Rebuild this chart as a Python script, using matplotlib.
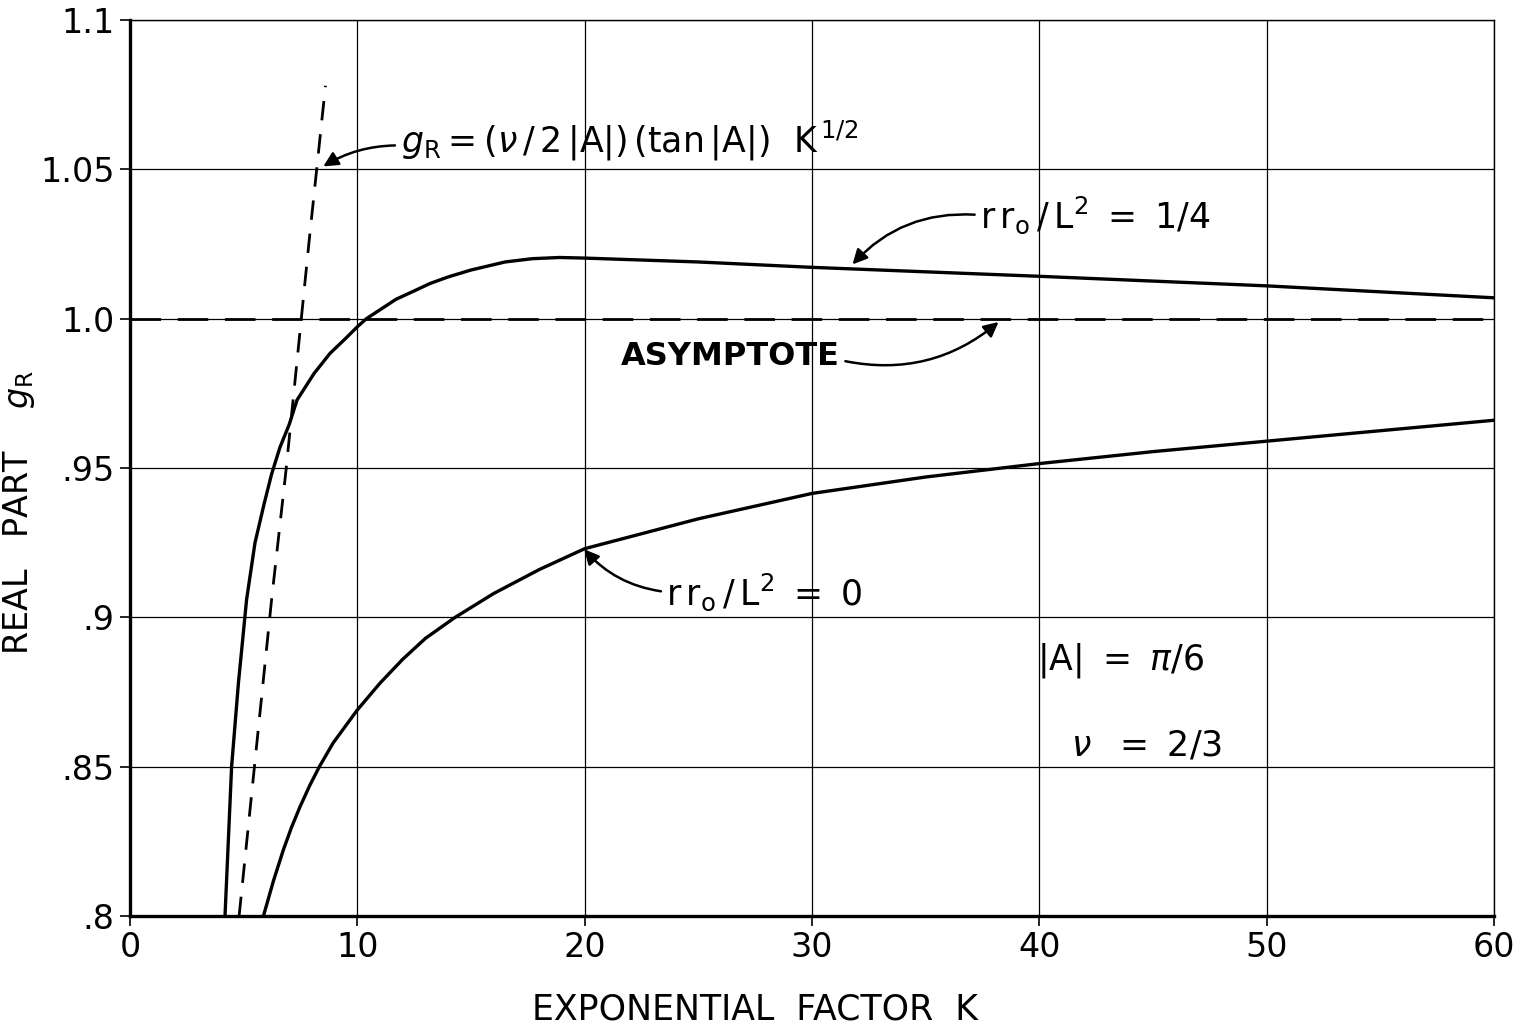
import matplotlib
matplotlib.use("Agg")
import matplotlib.pyplot as plt

# ── values ──────────────────────────────────────────────────────
k_quarter = [4.18, 4.47, 4.77, 5.13, 5.5, 5.9, 6.23, 6.6, 7.0, 7.35, 8.1, 8.8,
             9.5, 10.0, 10.4, 11.0, 11.7, 12.5, 13.2, 14.0, 15.0, 16.5, 17.7,
             18.9, 20.0, 25.0, 30.0, 35.0, 40.0, 45.0, 50.0, 55.0, 60.0]
g_quarter = [0.800, 0.850, 0.878, 0.906, 0.925, 0.938, 0.948, 0.957, 0.9645,
             0.9728, 0.9817, 0.9884, 0.9935, 0.9973, 1.000, 1.003, 1.0065,
             1.0093, 1.0118, 1.0140, 1.0163, 1.0190, 1.0201, 1.0205, 1.0203,
             1.0190, 1.0172, 1.0157, 1.0142, 1.0126, 1.0110, 1.0090, 1.0070]

k_zero = [5.87, 6.3, 6.74, 7.1, 7.48, 7.9, 8.33, 8.94, 10.0, 11.0, 12.0, 13.0,
          14.3, 16.0, 18.0, 20.0, 25.0, 30.0, 35.0, 40.0, 45.0, 50.0, 55.0, 60.0]
g_zero = [0.800, 0.8115, 0.822, 0.8296, 0.8366, 0.8436, 0.850, 0.858, 0.869,
          0.878, 0.886, 0.893, 0.900, 0.908, 0.916, 0.923, 0.933, 0.9415,
          0.947, 0.9515, 0.9555, 0.959, 0.9625, 0.966]

k_sqrt = [4.8, 6.23, 6.86, 7.88, 8.6]
g_sqrt = [0.800, 0.906, 0.949, 1.026, 1.078]

k_asym = [0, 60]
g_asym = [1.0, 1.0]

x_ticks = [0, 10, 20, 30, 40, 50, 60]
x_labels = ["0", "10", "20", "30", "40", "50", "60"]
y_ticks = [0.8, 0.85, 0.9, 0.95, 1.0, 1.05, 1.1]
y_labels = [".8", ".85", ".9", ".95", "1.0", "1.05", "1.1"]

plt.rcParams["font.family"] = ["DejaVu Sans"]
plt.rcParams["mathtext.fontset"] = "dejavusans"

fig = plt.figure(figsize=(15.22, 10.28), dpi=100, facecolor="white")
ax = fig.add_axes([0.0854, 0.1089, 0.8962, 0.8716])

ax.plot(k_quarter, g_quarter, color="black", lw=2.4, solid_joinstyle="round")
ax.plot(k_zero, g_zero, color="black", lw=2.4, solid_joinstyle="round")
ax.plot(k_sqrt, g_sqrt, color="black", lw=2.0, dashes=(7, 5))
ax.plot(k_asym, g_asym, color="black", lw=2.0, dashes=(11, 6))

ax.set_xlim(0, 60)
ax.set_ylim(0.8, 1.1)
ax.set_xticks(x_ticks)
ax.set_xticklabels(x_labels, fontsize=24)
ax.set_yticks(y_ticks)
ax.set_yticklabels(y_labels, fontsize=24)
ax.grid(True, color="black", lw=0.9)
ax.tick_params(direction="out", length=7, width=1.2, pad=4)

for side in ["top", "right"]:
    ax.spines[side].set_linewidth(1.0)
for side in ["left", "bottom"]:
    ax.spines[side].set_linewidth(2.4)

ax.set_xlabel("EXPONENTIAL  FACTOR  K", fontsize=25)
ax.xaxis.set_label_coords(0.458, -0.085)
ax.set_ylabel(r"REAL   PART    $\mathit{g}_{\mathrm{R}}$", fontsize=24)
ax.yaxis.set_label_coords(-0.068, 0.45)

arrow = dict(arrowstyle="-|>", color="black", lw=1.8, mutation_scale=22)

ax.annotate(r"$\mathit{g}_{\mathrm{R}} = (\nu\,/\,2\,|\mathrm{A}|)\,(\mathrm{tan}\,|\mathrm{A}|)\ \ \mathrm{K}^{\,1/2}$",
            xy=(8.4, 1.0505), xytext=(11.9, 1.0595), fontsize=25, va="center",
            arrowprops=dict(arrow, connectionstyle="arc3,rad=0.15",
                            relpos=(0.0, 0.4)))

ax.annotate(r"$\mathrm{r\,r_o}\,/\,\mathrm{L}^2\ =\ 1/4$",
            xy=(31.7, 1.0175), xytext=(37.4, 1.0347), fontsize=25, va="center",
            arrowprops=dict(arrow, connectionstyle="arc3,rad=0.25",
                            relpos=(0.0, 0.5)))

ax.annotate("ASYMPTOTE",
            xy=(38.3, 0.9995), xytext=(21.6, 0.9872), fontsize=23, va="center",
            fontweight="bold",
            arrowprops=dict(arrow, connectionstyle="arc3,rad=0.25",
                            relpos=(1.0, 0.4)))

ax.annotate(r"$\mathrm{r\,r_o}\,/\,\mathrm{L}^2\ =\ 0$",
            xy=(19.9, 0.9235), xytext=(23.6, 0.9085), fontsize=25, va="center",
            arrowprops=dict(arrow, connectionstyle="arc3,rad=-0.2",
                            relpos=(0.0, 0.5)))

ax.text(39.9, 0.8857, r"$|\mathrm{A}|\ =\ \pi/6$", fontsize=25, va="center")
ax.text(41.4, 0.857, r"$\nu\ \ =\ 2/3$", fontsize=25, va="center")

fig.savefig("out.png", dpi=100, facecolor="white")
